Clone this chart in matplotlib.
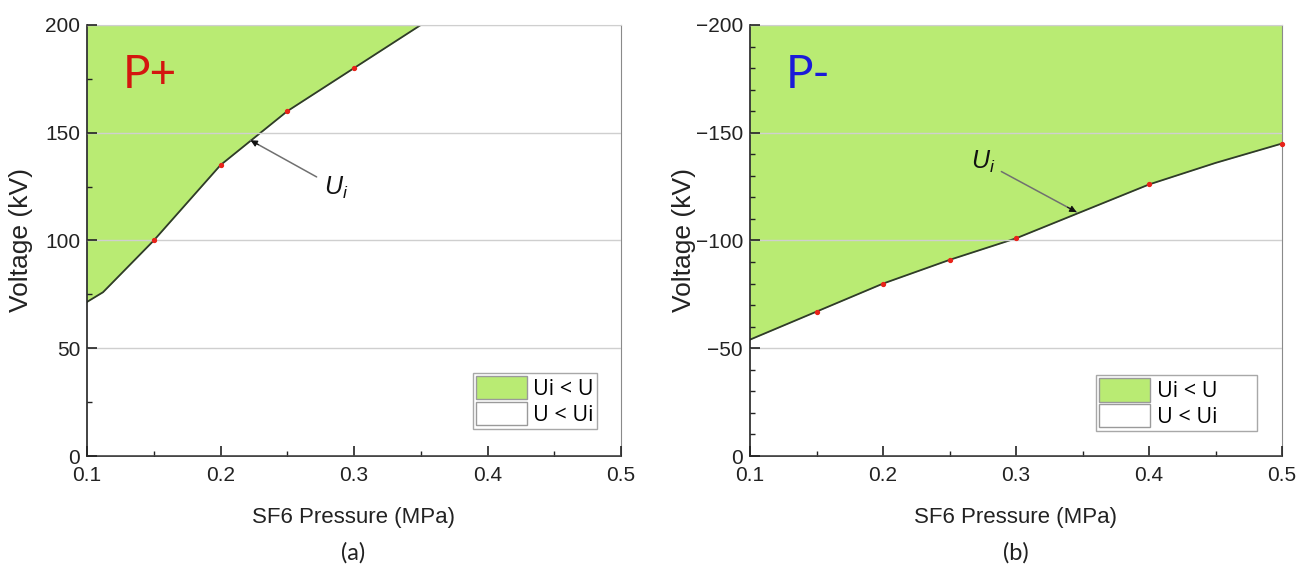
import matplotlib
matplotlib.use("Agg")
import matplotlib.pyplot as plt
from matplotlib.patches import Patch
from matplotlib.ticker import MultipleLocator

plt.rcParams['font.family'] = ['Liberation Sans', 'DejaVu Sans']
plt.rcParams['mathtext.fontset'] = 'custom'
plt.rcParams['mathtext.rm'] = 'Liberation Sans'
plt.rcParams['mathtext.it'] = 'Liberation Sans:italic'

# ---- data ----
pos_pressure = [0.10, 0.112, 0.15, 0.20, 0.25, 0.30, 0.35]
pos_voltage = [71.5, 76, 100, 135, 160, 180, 200]
pos_meas_pressure = [0.15, 0.20, 0.25, 0.30]
pos_meas_voltage = [100, 135, 160, 180]

neg_pressure = [0.10, 0.15, 0.20, 0.25, 0.30, 0.35, 0.40, 0.45, 0.50]
neg_voltage = [-54, -67, -80, -91, -101, -113.5, -126, -136, -145]
neg_meas_pressure = [0.15, 0.20, 0.25, 0.30, 0.40, 0.50]
neg_meas_voltage = [-67, -80, -91, -101, -126, -145]

xticks = [0.1, 0.2, 0.3, 0.4, 0.5]
legend_labels = ['Ui < U', 'U < Ui']

GREEN = '#b9eb73'
LINE = '#2f3a2a'

fig = plt.figure(figsize=(13.08, 5.71), dpi=100)
W, H = 1308, 571

def px_axes(x0, x1, y0, y1):
    return fig.add_axes([x0 / W, 1 - y1 / H, (x1 - x0) / W, (y1 - y0) / H])

axA = px_axes(87, 621, 25, 456)
axB = px_axes(750, 1282, 25, 456)


def style(ax, ymajor, yminor):
    ax.set_xlim(0.1, 0.5)
    ax.set_xticks(xticks)
    ax.xaxis.set_minor_locator(MultipleLocator(0.05))
    ax.yaxis.set_major_locator(MultipleLocator(ymajor))
    ax.yaxis.set_minor_locator(MultipleLocator(yminor))
    ax.tick_params(which='both', direction='in', top=False, right=False,
                   labelsize=15, colors='#222222')
    ax.tick_params(which='major', length=7, width=1.2, pad=5)
    ax.tick_params(which='minor', length=3.5, width=1.0)
    ax.tick_params(axis='x', pad=7)
    ax.grid(axis='y', which='major', color='#cfcfcf', lw=1.0)
    ax.set_axisbelow(False)
    for s in ['left', 'bottom']:
        ax.spines[s].set_color('#222222')
        ax.spines[s].set_linewidth(1.2)
    ax.spines['right'].set_color('#8a8a8a')
    ax.spines['top'].set_color('#d0d0d0')
    ax.set_xlabel('SF6 Pressure (MPa)', fontsize=16, color='#222222')
    ax.set_ylabel('Voltage (kV)', fontsize=19, color='#222222')
    ax.xaxis.set_label_coords(0.5, -0.142)
    ax.xaxis.label.set_va('center')
    ax.yaxis.set_label_coords(-0.124, 0.5)
    ax.yaxis.label.set_va('center')


def legend(ax, x, y, pad_right=0):
    handles = [Patch(facecolor=GREEN, edgecolor='#9a9a9a', lw=1.0),
               Patch(facecolor='white', edgecolor='#9a9a9a', lw=1.0)]
    labels = [lab + '\u2007' * pad_right for lab in legend_labels]
    leg = ax.legend(handles, labels, loc='lower right',
                    bbox_to_anchor=(x, y), borderaxespad=0,
                    prop={'family': 'Open Sans', 'size': 15.5},
                    handlelength=2.35, handleheight=1.3, handletextpad=0.3,
                    labelspacing=0.08, borderpad=0.15,
                    fancybox=False, framealpha=1, edgecolor='#a8a8a8')
    leg.get_frame().set_linewidth(1.0)
    return leg


def arrow(ax, head, tail):
    ax.annotate('', xy=head, xytext=tail,
                arrowprops=dict(arrowstyle='-', color='#707070', lw=1.1,
                                shrinkA=0, shrinkB=0))
    dx = (tail[0] - head[0]) * 0.12
    dy = (tail[1] - head[1]) * 0.12
    ax.annotate('', xy=head, xytext=(head[0] + dx, head[1] + dy),
                arrowprops=dict(arrowstyle='-|>', color='#111111', lw=0.8,
                                mutation_scale=10, shrinkA=0, shrinkB=0))


# ---- (a) positive ----
ax = axA
ax.set_ylim(0, 200)
ax.fill_between(pos_pressure, pos_voltage, 200, color=GREEN, lw=0, zorder=1)
ax.plot(pos_pressure, pos_voltage, color=LINE, lw=1.3, zorder=2)
ax.plot(pos_meas_pressure, pos_meas_voltage, ls='none', marker='o', ms=2.8,
        color='#e8231a', zorder=3)
style(ax, 50, 25)
ax.text(0.127, 177, 'P+', color='#d4160f', fontsize=33, family='Lato',
        va='center', ha='left')
arrow(ax, (0.2225, 146.5), (0.272, 129.5))
ax.text(0.2865, 124.5, r'$U_i$', fontsize=18, ha='center', va='center',
        color='#111111')
legend(ax, 0.955, 0.063)
fig.text(353 / W, 1 - 553 / H, '(a)', fontsize=17, family='Lato',
         ha='center', va='center', color='#222222')

# ---- (b) negative ----
ax = axB
ax.set_ylim(0, -200)
ax.fill_between(neg_pressure, neg_voltage, -200, color=GREEN, lw=0, zorder=1)
ax.plot(neg_pressure, neg_voltage, color=LINE, lw=1.3, zorder=2)
ax.plot(neg_meas_pressure, neg_meas_voltage, ls='none', marker='o', ms=2.8,
        color='#e8231a', zorder=3, clip_on=False)
style(ax, 50, 10)
ax.text(0.127, -177, 'P-', color='#1b1bd8', fontsize=33, family='Lato',
        va='center', ha='left')
arrow(ax, (0.3455, -113.2), (0.289, -132.0))
ax.text(0.2752, -136.5, r'$U_i$', fontsize=18, ha='center', va='center',
        color='#111111')
legend(ax, 0.953, 0.058, pad_right=3)
fig.text(1016 / W, 1 - 553 / H, '(b)', fontsize=17, family='Lato',
         ha='center', va='center', color='#222222')

fig.savefig('out.png', dpi=100)
